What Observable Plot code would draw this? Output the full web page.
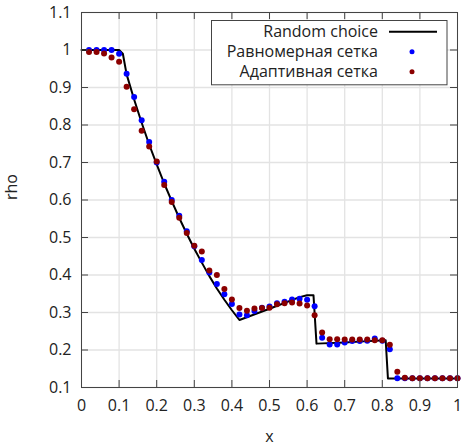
<!DOCTYPE html>
<html>
<head>
<meta charset="utf-8">
<script src="https://cdn.jsdelivr.net/npm/d3@7"></script>
<script src="https://cdn.jsdelivr.net/npm/@observablehq/plot@0.6"></script>
<style>
  html, body { margin: 0; padding: 0; background: white; }
</style>
</head>
<body>
<div id="chart"></div>
<script>
// ---- data ----
const seriesNames = ["Random choice", "Равномерная сетка", "Адаптивная сетка"];
const seriesColors = ["#000000", "#0000ff", "#8b0000"];

const xTicks = [0, 0.1, 0.2, 0.3, 0.4, 0.5, 0.6, 0.7, 0.8, 0.9, 1];
const xTickLabels = ["0", "0.1", "0.2", "0.3", "0.4", "0.5", "0.6", "0.7", "0.8", "0.9", "1"];
const yTicks = [0.1, 0.2, 0.3, 0.4, 0.5, 0.6, 0.7, 0.8, 0.9, 1, 1.1];
const yTickLabels = ["0.1", "0.2", "0.3", "0.4", "0.5", "0.6", "0.7", "0.8", "0.9", "1", "1.1"];

// Random choice solution (black line)
const curveX = [0, 0.10, 0.11, 0.12, 0.14, 0.16, 0.18, 0.20, 0.22, 0.24, 0.26, 0.28, 0.30, 0.32, 0.34, 0.36, 0.38, 0.40, 0.42, 0.50, 0.58, 0.60, 0.617, 0.625, 0.70, 0.75, 0.809, 0.815, 1.0];
const curveY = [1, 1, 0.99, 0.935, 0.868, 0.806, 0.748, 0.695, 0.644, 0.597, 0.552, 0.51, 0.47, 0.433, 0.397, 0.364, 0.334, 0.306, 0.28, 0.31, 0.341, 0.346, 0.346, 0.217, 0.22, 0.223, 0.226, 0.124, 0.124];

// grid point positions of both meshes
const meshX = [0.02, 0.04, 0.06, 0.08, 0.10, 0.12, 0.14, 0.16, 0.18, 0.20,
               0.22, 0.24, 0.26, 0.28, 0.30, 0.32, 0.34, 0.36, 0.38, 0.40,
               0.42, 0.44, 0.46, 0.48, 0.50, 0.52, 0.54, 0.56, 0.58, 0.60,
               0.62, 0.64, 0.66, 0.68, 0.70, 0.72, 0.74, 0.76, 0.78, 0.80,
               0.82, 0.84, 0.86, 0.88, 0.90, 0.92, 0.94, 0.96, 0.98, 1.00];
// Равномерная сетка (blue)
const uniformY = [1.0, 1.0, 1.0, 1.0, 0.99, 0.937, 0.875, 0.813, 0.755, 0.70,
                  0.649, 0.60, 0.558, 0.517, 0.477, 0.44, 0.407, 0.376, 0.349, 0.323,
                  0.295, 0.293, 0.304, 0.313, 0.316, 0.325, 0.329, 0.335, 0.337, 0.334,
                  0.317, 0.233, 0.215, 0.215, 0.22, 0.224, 0.224, 0.225, 0.231, 0.225,
                  0.202, 0.125, 0.125, 0.125, 0.125, 0.125, 0.125, 0.125, 0.125, 0.125];
// Адаптивная сетка (dark red)
const adaptiveY = [0.995, 0.995, 0.991, 0.98, 0.969, 0.902, 0.842, 0.785, 0.743, 0.703,
                   0.64, 0.595, 0.553, 0.512, 0.478, 0.463, 0.412, 0.40, 0.363, 0.335,
                   0.312, 0.305, 0.311, 0.312, 0.313, 0.322, 0.325, 0.327, 0.324, 0.319,
                   0.293, 0.247, 0.229, 0.229, 0.228, 0.228, 0.228, 0.228, 0.226, 0.226,
                   0.214, 0.142, 0.126, 0.125, 0.125, 0.125, 0.125, 0.125, 0.125, 0.125];

// ---- tables ----
const curve = curveX.map((x, i) => ({x, y: curveY[i]}));
const uniform = meshX.map((x, i) => ({x, y: uniformY[i]}));
const adaptive = meshX.map((x, i) => ({x, y: adaptiveY[i]}));

const W = 463, H = 448;
const mL = 81, mR = 6, mT = 12, mB = 61;
const plotW = W - mL - mR, plotH = H - mT - mB;
const tickLen = 7;
const axisColor = "#444";
const font = "Open Sans";

function legendMark(index, scales, values, dims) {
  const g = d3.create("svg:g").attr("font-family", font).attr("font-size", 16);
  const right = dims.width - dims.marginRight - 10;
  const top = dims.marginTop + 8.5;
  const bw = 235.5, bh = 64.3;
  g.append("rect").attr("x", right - bw).attr("y", top).attr("width", bw).attr("height", bh)
    .attr("fill", "white").attr("stroke", axisColor).attr("stroke-width", 1);
  seriesNames.forEach((name, i) => {
    const cy = top + 11.3 + 20 * i;
    g.append("text").attr("x", right - 69).attr("y", cy).attr("dy", "0.35em")
      .attr("text-anchor", "end").attr("fill", "#222").text(name);
    if (i === 0) {
      g.append("line").attr("x1", right - 58).attr("x2", right - 10).attr("y1", cy).attr("y2", cy)
        .attr("stroke", seriesColors[i]).attr("stroke-width", 2);
    } else {
      g.append("circle").attr("cx", right - 35).attr("cy", cy).attr("r", 2.5).attr("fill", seriesColors[i]);
    }
  });
  return g.node();
}

const chart = Plot.plot({
  width: W, height: H,
  marginLeft: mL, marginRight: mR, marginTop: mT, marginBottom: mB,
  style: {fontFamily: font, fontSize: "16px", background: "white", color: "#222"},
  x: {domain: [0, 1]},
  y: {domain: [0.1, 1.1]},
  marks: [
    Plot.gridX(xTicks, {stroke: "#e3e3e3", strokeOpacity: 1, strokeWidth: 1.3}),
    Plot.gridY(yTicks, {stroke: "#e3e3e3", strokeOpacity: 1, strokeWidth: 1.3}),
    Plot.line(curve, {x: "x", y: "y", stroke: seriesColors[0], strokeWidth: 2}),
    Plot.dot(uniform, {x: "x", y: "y", r: 3, fill: seriesColors[1]}),
    Plot.dot(adaptive, {x: "x", y: "y", r: 3, fill: seriesColors[2]}),
    legendMark,
    // inward ticks on all four sides
    Plot.tickX(xTicks, {x: d => d, insetTop: plotH - tickLen, stroke: axisColor}),
    Plot.tickX(xTicks, {x: d => d, insetBottom: plotH - tickLen, stroke: axisColor}),
    Plot.tickY(yTicks, {y: d => d, insetRight: plotW - tickLen, stroke: axisColor}),
    Plot.tickY(yTicks, {y: d => d, insetLeft: plotW - tickLen, stroke: axisColor}),
    Plot.frame({stroke: axisColor, strokeWidth: 1}),
    Plot.axisX(xTicks, {tickSize: 0, tickPadding: 12, tickFormat: (d, i) => xTickLabels[i], label: null, fontSize: 16}),
    Plot.axisY(yTicks, {tickSize: 0, tickPadding: 10, tickFormat: (d, i) => yTickLabels[i], label: null, fontSize: 16}),
    Plot.text(["x"], {frameAnchor: "bottom", dy: 54, fontSize: 16, fill: "#222"}),
    Plot.text(["rho"], {frameAnchor: "left", dx: -70, rotate: -90, fontSize: 16, fill: "#222"})
  ]
});
document.getElementById("chart").appendChild(chart);
</script>
</body>
</html>
